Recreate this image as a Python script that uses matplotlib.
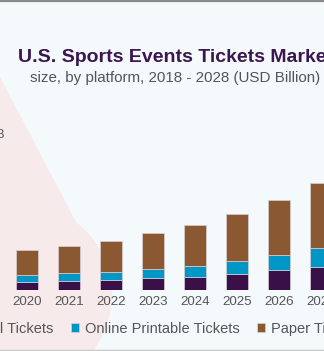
import matplotlib
matplotlib.use("Agg")
import matplotlib.pyplot as plt
from matplotlib.patches import Polygon, Circle

# data (USD Billion)
years = [2020, 2021, 2022, 2023, 2024, 2025, 2026, 2027]
tick_years = [2019, 2020, 2021, 2022, 2023, 2024, 2025, 2026, 2027]
digital = [0.80, 0.93, 1.03, 1.17, 1.33, 1.60, 1.97, 2.33]
printable = [0.67, 0.74, 0.80, 0.93, 1.10, 1.27, 1.53, 1.87]
paper = [2.50, 2.70, 3.07, 3.60, 4.03, 4.77, 5.53, 6.53]
series_names = ["Digital Tickets", "Online Printable Tickets", "Paper Tickets"]
colors = ["#3a1048", "#0096c6", "#8a5831"]

plt.rcParams["font.family"] = ["Liberation Sans", "DejaVu Sans"]

W, H = 324, 351
fig = plt.figure(figsize=(W / 100, H / 100), dpi=100)
fig.patch.set_facecolor("#f4f9fc")

# decorative background
bg = fig.add_axes([0, 0, 1, 1], zorder=0)
bg.set_xlim(0, W)
bg.set_ylim(H, 0)
bg.axis("off")
pink = "#f6ebea"
bg.add_patch(Polygon([(0, 77), (88, 245), (60, 351), (0, 351)], closed=True, color=pink, lw=0))
bg.add_patch(Circle((20, 295), 92, color=pink, lw=0))
bg.plot([0, W], [0.8, 0.8], color="#8c8c8c", lw=1.6)
bg.plot([0, W], [349.5, 349.5], color="#c8c8c8", lw=1)

# bars
ax = fig.add_axes([0, (H - 290) / H, 1, 190 / H], zorder=1)
ax.patch.set_alpha(0)
bottom = [0] * len(years)
handles = []
for vals, c, name in zip([digital, printable, paper], colors, series_names):
    b = ax.bar(years, vals, 0.52, bottom=bottom, color=c, edgecolor="#d9cfd6",
               linewidth=0.5, label=name)
    handles.append(b)
    bottom = [p + v for p, v in zip(bottom, vals)]

for s in ax.spines.values():
    s.set_visible(False)
ax.set_yticks([])
ax.set_xticks(tick_years)
ax.set_xticklabels([str(y) for y in tick_years], fontsize=9.6, color="#555555")
ax.tick_params(axis="x", length=0, pad=4)
ax.set_xlim(2020 - 26.7 / 42.1, 2020 + (W - 26.7) / 42.1)
ax.set_ylim(0, 19)

fig.text(175.5 / W, 1 - 57 / H, "U.S. Sports Events Tickets Market", ha="center", va="center",
         fontsize=14, fontweight="bold", color="#3b1650")
fig.text(175.5 / W, 1 - 78 / H, "size, by platform, 2018 - 2028 (USD Billion)", ha="center",
         va="center", fontsize=10.9, color="#555555")
fig.text(6 / W, 1 - 135 / H, "$9.8B", ha="right", va="center", fontsize=9, color="#555555")

leg = fig.legend(handles, series_names, ncol=3, loc="center", bbox_to_anchor=(154 / W, 1 - 329 / H),
                 frameon=False, fontsize=10.5, handlelength=0.55, handleheight=0.55,
                 handletextpad=0.4, columnspacing=1.2, labelcolor="#555555")

fig.savefig("out.png", dpi=100, facecolor=fig.get_facecolor())
